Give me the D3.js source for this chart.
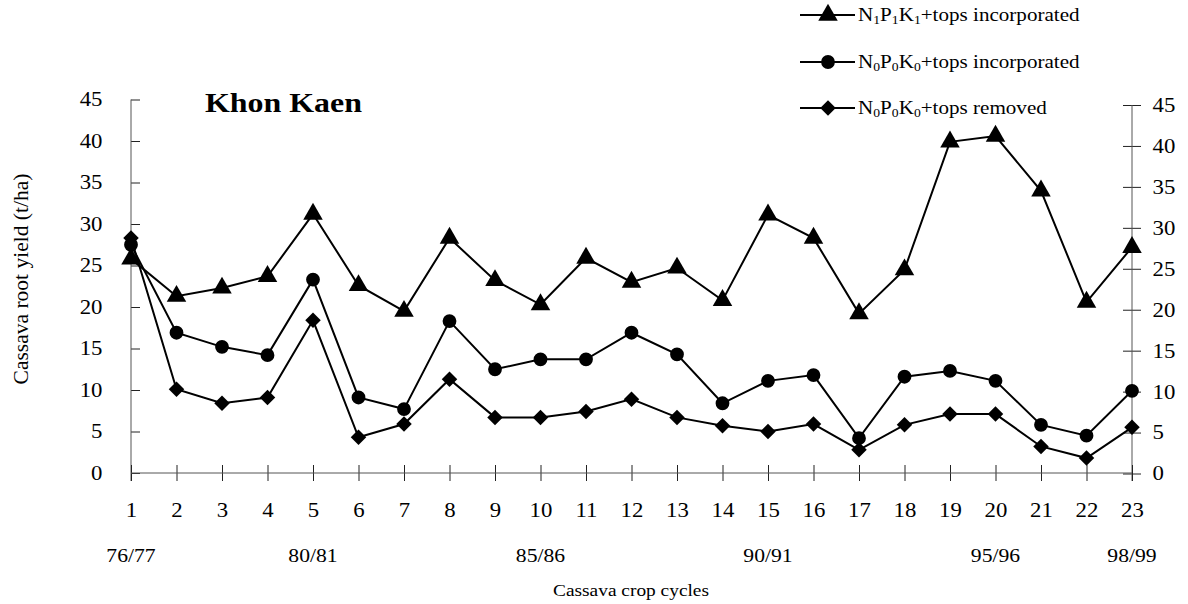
<!DOCTYPE html>
<html>
<head>
<meta charset="utf-8">
<script src="https://cdn.jsdelivr.net/npm/d3@7"></script>
<style>
	body { margin: 0; background: #fff; }
	text { font-family: "Liberation Serif", "Times New Roman", serif; fill: #000; }
</style>
</head>
<body>
<div id="chart"></div>
<script>

// crop cycles 1..23
var cycles = d3.range(1, 24);
var yearLabels = [
	{cycle: 1, label: "76/77"},
	{cycle: 5, label: "80/81"},
	{cycle: 10, label: "85/86"},
	{cycle: 15, label: "90/91"},
	{cycle: 20, label: "95/96"},
	{cycle: 23, label: "98/99"}
];
var yTicks = [0, 5, 10, 15, 20, 25, 30, 35, 40, 45];

var npk1Inc = [25.8, 21.3, 22.3, 23.7, 31.2, 22.6, 19.5, 28.3, 23.2, 20.3, 25.9, 23.0,
	24.7, 20.8, 31.1, 28.3, 19.2, 24.5, 39.9, 40.6, 34.0, 20.6, 27.2];
var npk0Inc = [27.5, 16.9, 15.2, 14.2, 23.3, 9.1, 7.7, 18.3, 12.5, 13.7, 13.7, 16.9,
	14.3, 8.4, 11.1, 11.8, 4.2, 11.6, 12.3, 11.1, 5.8, 4.5, 9.9];
var npk0Rem = [28.3, 10.1, 8.4, 9.1, 18.4, 4.3, 5.9, 11.3, 6.7, 6.7, 7.4, 8.9,
	6.7, 5.7, 5.0, 5.9, 2.8, 5.8, 7.1, 7.1, 3.2, 1.8, 5.5];

// legend text pieces, "s" = subscript
var series = [
	{parts: [["N",""],["1","s"],["P",""],["1","s"],["K",""],["1","s"],["+tops incorporated",""]], values: npk1Inc, marker: "triangle"},
	{parts: [["N",""],["0","s"],["P",""],["0","s"],["K",""],["0","s"],["+tops incorporated",""]], values: npk0Inc, marker: "circle"},
	{parts: [["N",""],["0","s"],["P",""],["0","s"],["K",""],["0","s"],["+tops removed",""]], values: npk0Rem, marker: "diamond"}
];

var width = 1188, height = 604;
var stretch = "scale(1.14,1)"; // the original's lettering is a bit wide

var xScale = d3.scaleLinear()
			.domain([1, 23])
			.range([131, 1132]);

var yScale = d3.scaleLinear()
			.domain([0, 45])
			.range([473, 99.5]);

// right axis sits a little lower at the top in the original
var yScaleRight = d3.scaleLinear()
			.domain([0, 45])
			.range([473.5, 105]);

var svg = d3.select("#chart").append("svg")
		.attr("width", width)
		.attr("height", height);

var axisColor = "#555";

function markerPath(type){
	if(type == "triangle") return d3.symbol().type(d3.symbolTriangle).size(165)();
	if(type == "circle") return d3.symbol().type(d3.symbolCircle).size(150)();
	return d3.symbol().type(d3.symbolSquare).size(120)();
}

function label(x, y, size, txt, anchor, bold){
	var t = svg.append("g").attr("transform", "translate(" + x + "," + y + ")")
		.append("text")
		.attr("transform", stretch)
		.attr("text-anchor", anchor || "start")
		.attr("font-size", size)
		.text(txt);
	if(bold) t.attr("font-weight", "bold");
	return t;
}

// left axis
var left = svg.append("g")
	.attr("transform", "translate(131,0)")
	.call(d3.axisLeft(yScale).tickValues(yTicks).tickSizeInner(9).tickSizeOuter(0).tickPadding(16));
left.select(".domain").remove();
left.selectAll(".tick line").attr("x2", 9).attr("stroke", "#222");
left.selectAll(".tick text").attr("font-size", 20).attr("font-family", "Liberation Serif").attr("transform", stretch);
svg.append("line")
	.attr("x1", 131).attr("x2", 131)
	.attr("y1", yScale(45)).attr("y2", 481)
	.attr("stroke", axisColor);

// right axis
var right = svg.append("g")
	.attr("transform", "translate(1132,0)")
	.call(d3.axisRight(yScaleRight).tickValues(yTicks).tickSizeInner(9).tickSizeOuter(0).tickPadding(9));
right.select(".domain").remove();
right.selectAll(".tick line").attr("x1", -9).attr("stroke", "#222");
right.selectAll(".tick text").attr("font-size", 20).attr("font-family", "Liberation Serif").attr("transform", stretch);
svg.append("line")
	.attr("x1", 1132).attr("x2", 1132)
	.attr("y1", yScaleRight(45)).attr("y2", 481)
	.attr("stroke", axisColor);

// bottom axis
var bottom = svg.append("g")
	.attr("transform", "translate(0,473)")
	.call(d3.axisBottom(xScale).tickValues(cycles).tickFormat(d3.format("d")).tickSizeInner(8).tickSizeOuter(0).tickPadding(22));
bottom.select(".domain").remove();
bottom.selectAll(".tick line").attr("y1", -8).attr("stroke", "#222");
bottom.selectAll(".tick text").attr("font-size", 20).attr("font-family", "Liberation Serif").attr("transform", stretch);
svg.append("line")
	.attr("x1", 131).attr("x2", 1132)
	.attr("y1", 473).attr("y2", 473)
	.attr("stroke", axisColor);

// season labels under the cycle numbers
yearLabels.forEach(function(d){
	label(xScale(d.cycle), 562, 19, d.label, "middle");
});

label(631, 596, 17, "Cassava crop cycles", "middle");

svg.append("text")
	.attr("transform", "translate(28,279) rotate(-90)")
	.attr("text-anchor", "middle")
	.attr("font-size", 21.5)
	.text("Cassava root yield (t/ha)");

label(205, 112, 28, "Khon Kaen", "start", true);

// series lines + markers
var line = d3.line()
	.x(function(d, i){ return xScale(cycles[i]); })
	.y(function(d){ return yScale(d); });

series.forEach(function(s){
	svg.append("path")
		.datum(s.values)
		.attr("d", line)
		.attr("fill", "none")
		.attr("stroke", "#000")
		.attr("stroke-width", 2);

	svg.selectAll(".m-" + s.marker)
		.data(s.values).enter()
		.append("path")
		.attr("class", "m-" + s.marker)
		.attr("d", markerPath(s.marker))
		.attr("transform", function(d, i){
			var t = "translate(" + xScale(cycles[i]) + "," + yScale(d) + ")";
			if(s.marker == "diamond") t += " rotate(45)";
			return t;
		})
		.attr("fill", "#000");
});

// legend
var legendY = [15, 62, 108];
series.forEach(function(s, i){
	var g = svg.append("g").attr("transform", "translate(0," + legendY[i] + ")");
	g.append("line")
		.attr("x1", 800).attr("x2", 855)
		.attr("stroke", "#000").attr("stroke-width", 2);
	g.append("path")
		.attr("d", markerPath(s.marker))
		.attr("transform", "translate(828,0)" + (s.marker == "diamond" ? " rotate(45)" : ""))
		.attr("fill", "#000");
	var t = g.append("g").attr("transform", "translate(858,6)")
		.append("text")
		.attr("transform", stretch)
		.attr("font-size", 18.5);
	var wasSub = false;
	s.parts.forEach(function(p){
		var ts = t.append("tspan").text(p[0]);
		if(p[1] == "s"){
			ts.attr("font-size", 12).attr("dy", 3);
			wasSub = true;
		} else {
			ts.attr("dy", wasSub ? -3 : 0);
			wasSub = false;
		}
	});
});

</script>
</body>
</html>
